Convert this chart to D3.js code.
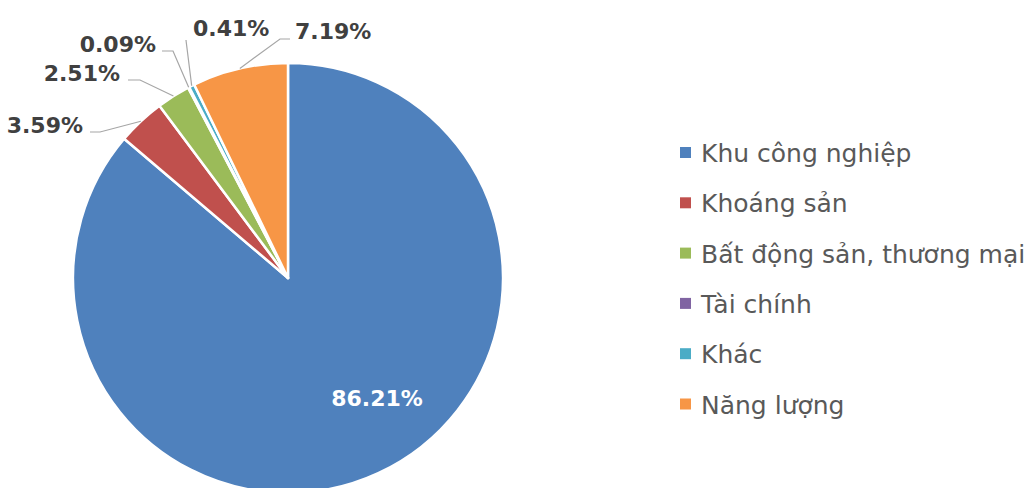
<!DOCTYPE html>
<html>
<head>
<meta charset="utf-8">
<script src="https://cdn.jsdelivr.net/npm/d3@7"></script>
<style>
  body { margin: 0; background: #fff; }
  text { font-family: "DejaVu Sans", sans-serif; }
</style>
</head>
<body>
<div id="chart"></div>
<script>
// data
const categories = ["Khu công nghiệp", "Khoáng sản", "Bất động sản, thương mại", "Tài chính", "Khác", "Năng lượng"];
const shares = [86.21, 3.59, 2.51, 0.09, 0.41, 7.19];
const colors = ["#4f81bd", "#c0504d", "#9bbb59", "#8064a2", "#4bacc6", "#f79646"];

const width = 1029, height = 488;
const cx = 288, cy = 278, radius = 215;

// where each outside label sits (elbow point, text anchor point)
const labelLayout = [
    {inside: true, tx: 377, ty: 406},
    {ex: 100, ey: 132, hx: 90, tx: 83, ty: 133},
    {ex: 140, ey: 80, hx: 128, tx: 120, ty: 81},
    {ex: 173, ey: 51, hx: 162, tx: 156, ty: 52},
    {ex: 186, ey: 40, hx: 186, tx: 193, ty: 36, anchor: "start"},
    {ex: 280, ey: 39, hx: 290, tx: 295, ty: 39, anchor: "start"}
];

let svg = d3.select("#chart")
    .append("svg")
    .attr("width", width)
    .attr("height", height);

svg.append("rect").attr("width", width).attr("height", height).attr("fill", "#fff");

let pie = d3.pie().sort(null).value(d => d)(shares);
let arc = d3.arc().innerRadius(0).outerRadius(radius);

let g = svg.append("g").attr("transform", `translate(${cx}, ${cy})`);

g.selectAll("path")
    .data(pie)
    .enter()
    .append("path")
    .attr("d", arc)
    .attr("fill", (d, i) => colors[i])
    .attr("stroke", "#fff")
    .attr("stroke-width", 2.5)
    .attr("stroke-linejoin", "round");

// leader lines
pie.forEach(function(d, i) {
    let l = labelLayout[i];
    let mid = (d.startAngle + d.endAngle) / 2;
    let txt = shares[i].toFixed(2) + "%";
    if (l.inside) {
        svg.append("text")
            .attr("x", l.tx).attr("y", l.ty)
            .attr("text-anchor", "middle")
            .attr("fill", "#fff")
            .style("font-weight", "bold")
            .style("font-size", "22px")
            .text(txt);
        return;
    }
    let px = cx + radius * Math.sin(mid);
    let py = cy - radius * Math.cos(mid);
    svg.append("polyline")
        .attr("points", `${px},${py} ${l.ex},${l.ey} ${l.hx},${l.ey}`)
        .attr("fill", "none")
        .attr("stroke", "#a6a6a6")
        .attr("stroke-width", 1.2);
    svg.append("text")
        .attr("x", l.tx).attr("y", l.ty)
        .attr("text-anchor", l.anchor || "end")
        .attr("fill", "#404040")
        .style("font-weight", "bold")
        .style("font-size", "22px")
        .text(txt);
});

// legend
let legend = svg.append("g").attr("transform", "translate(680, 162)");
let rows = legend.selectAll("g")
    .data(categories)
    .enter().append("g")
    .attr("transform", (d, i) => `translate(0, ${i * 50.3})`);

rows.append("rect")
    .attr("x", 0).attr("y", -15)
    .attr("width", 11).attr("height", 11)
    .attr("fill", (d, i) => colors[i]);

rows.append("text")
    .attr("x", 21).attr("y", 0)
    .attr("fill", "#595959")
    .style("font-size", "25px")
    .text(d => d);
</script>
</body>
</html>
